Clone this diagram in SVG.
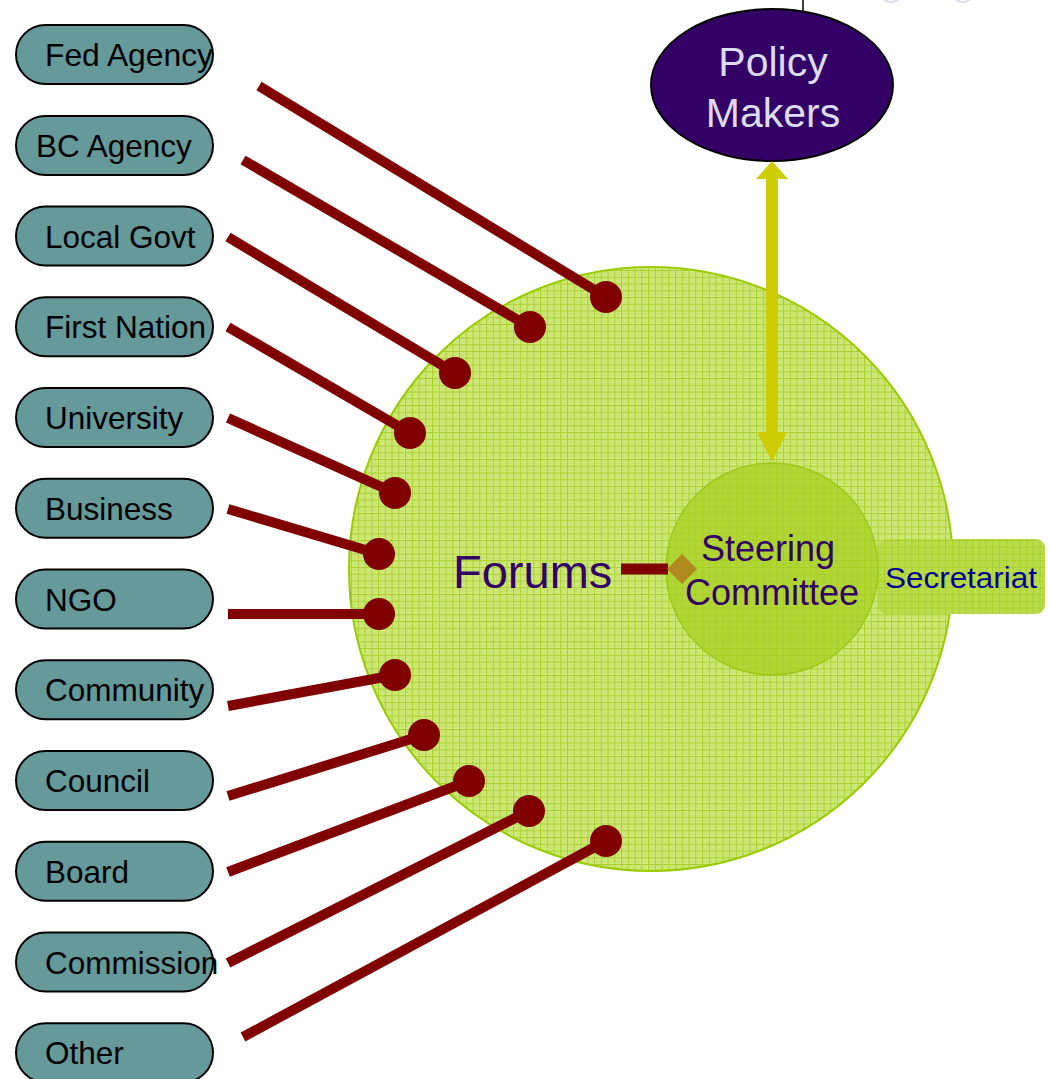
<svg xmlns="http://www.w3.org/2000/svg" width="1051" height="1079" viewBox="0 0 1051 1079">
<style>
.node rect{fill:#669999;stroke:#000;stroke-width:2}
.node text{font-family:"Liberation Sans",Arial,sans-serif;font-size:31.5px;fill:#000}
.link{stroke:#800000;stroke-width:10;fill:none}
.dot{fill:#800000}
.purple{font-family:"Liberation Sans",Arial,sans-serif;fill:#330066}
</style>
<defs>
<pattern id="grid" width="6.75" height="6.75" patternUnits="userSpaceOnUse">
<rect width="6.75" height="6.75" fill="#d1ea82"/>
<circle cx="3.4" cy="3.4" r="1.8" fill="none" stroke="#c0de58" stroke-width="0.8"/>
<path d="M0,0.5H6.75M0.5,0V6.75" stroke="#a9d02c" stroke-width="1"/>
</pattern>
<marker id="headTop" viewBox="0 0 18 32" refX="7" refY="16" markerWidth="18" markerHeight="32" markerUnits="userSpaceOnUse" orient="auto-start-reverse">
<path d="M0,0L18,16L0,32z" fill="#cccc00"/>
</marker>
<marker id="headBot" viewBox="0 0 30 30" refX="12" refY="15" markerWidth="30" markerHeight="30" markerUnits="userSpaceOnUse" orient="auto">
<path d="M0,0L30,15L0,30z" fill="#cccc00"/>
</marker>
</defs>
<rect width="1051" height="1079" fill="#fff"/>
<g id="top-marks">
<line x1="803" y1="0" x2="803" y2="11" stroke="#000" stroke-width="1.5"/>
<ellipse cx="891" cy="-5" rx="9" ry="7" fill="none" stroke="#dcdcf0" stroke-width="2"/>
<ellipse cx="963" cy="-5" rx="9" ry="7" fill="none" stroke="#dcdcf0" stroke-width="2"/>
</g>
<g id="forums">
<circle cx="651" cy="569" r="302" fill="url(#grid)" stroke="#99cc00" stroke-width="2"/>
<text class="purple" x="453" y="588" font-size="47">Forums</text>
</g>
<g id="secretariat">
<rect x="878" y="539" width="167" height="75" rx="9" fill="url(#grid)"/>
<rect x="878" y="539" width="167" height="75" rx="9" fill="#a8d020" fill-opacity="0.5"/>
<text x="961" y="588" text-anchor="middle" font-family="Liberation Sans,Arial,sans-serif" font-size="30" fill="#000099" textLength="152" lengthAdjust="spacingAndGlyphs">Secretariat</text>
</g>
<g id="steering">
<circle cx="772" cy="569" r="106" fill="#a6cf1e" fill-opacity="0.72" stroke="#9cc81c" stroke-width="1.5"/>
<text class="purple" x="768" y="561" font-size="36" text-anchor="middle">Steering</text>
<text class="purple" x="772" y="605" font-size="36" text-anchor="middle">Committee</text>
</g>
<g id="policy-makers">
<ellipse cx="772" cy="85" rx="121" ry="76" fill="#330066" stroke="#000" stroke-width="2"/>
<text x="773" y="76" text-anchor="middle" font-family="Liberation Sans,Arial,sans-serif" font-size="41" fill="#dcdcf2">Policy</text>
<text x="773" y="127" text-anchor="middle" font-family="Liberation Sans,Arial,sans-serif" font-size="41" fill="#dcdcf2">Makers</text>
</g>
<g id="node-fed" class="node"><rect x="16" y="25" width="197" height="59" rx="29.5"/><text x="45" y="66" textLength="168" lengthAdjust="spacingAndGlyphs">Fed Agency</text></g>
<g id="node-bc" class="node"><rect x="16" y="116" width="197" height="59" rx="29.5"/><text x="36" y="157">BC Agency</text></g>
<g id="node-local" class="node"><rect x="16" y="206.5" width="197" height="59" rx="29.5"/><text x="45" y="247.5">Local Govt</text></g>
<g id="node-first" class="node"><rect x="16" y="297.25" width="197" height="59" rx="29.5"/><text x="45" y="338.25">First Nation</text></g>
<g id="node-university" class="node"><rect x="16" y="388" width="197" height="59" rx="29.5"/><text x="45" y="429">University</text></g>
<g id="node-business" class="node"><rect x="16" y="478.75" width="197" height="59" rx="29.5"/><text x="45" y="519.75">Business</text></g>
<g id="node-ngo" class="node"><rect x="16" y="569.5" width="197" height="59" rx="29.5"/><text x="45" y="610.5">NGO</text></g>
<g id="node-community" class="node"><rect x="16" y="660.25" width="197" height="59" rx="29.5"/><text x="45" y="701.25">Community</text></g>
<g id="node-council" class="node"><rect x="16" y="751" width="197" height="59" rx="29.5"/><text x="45" y="792">Council</text></g>
<g id="node-board" class="node"><rect x="16" y="841.75" width="197" height="59" rx="29.5"/><text x="45" y="882.75">Board</text></g>
<g id="node-commission" class="node"><rect x="16" y="932.5" width="197" height="59" rx="29.5"/><text x="45" y="973.5">Commission</text></g>
<g id="node-other" class="node"><rect x="16" y="1023.25" width="197" height="59" rx="29.5"/><text x="45" y="1064.25">Other</text></g>
<g id="connectors">
<line class="link" x1="259" y1="86" x2="606" y2="297"/><circle class="dot" cx="606" cy="297" r="16"/>
<line class="link" x1="243" y1="160" x2="530" y2="327"/><circle class="dot" cx="530" cy="327" r="16"/>
<line class="link" x1="228" y1="237" x2="455" y2="373"/><circle class="dot" cx="455" cy="373" r="16"/>
<line class="link" x1="228" y1="327" x2="410" y2="433"/><circle class="dot" cx="410" cy="433" r="16"/>
<line class="link" x1="228" y1="418" x2="395" y2="493"/><circle class="dot" cx="395" cy="493" r="16"/>
<line class="link" x1="228" y1="509" x2="379" y2="554"/><circle class="dot" cx="379" cy="554" r="16"/>
<line class="link" x1="228" y1="614" x2="379" y2="614"/><circle class="dot" cx="379" cy="614" r="16"/>
<line class="link" x1="228" y1="706" x2="395" y2="675"/><circle class="dot" cx="395" cy="675" r="16"/>
<line class="link" x1="228" y1="796" x2="424" y2="735"/><circle class="dot" cx="424" cy="735" r="16"/>
<line class="link" x1="228" y1="872" x2="469" y2="781"/><circle class="dot" cx="469" cy="781" r="16"/>
<line class="link" x1="228" y1="963" x2="529" y2="811"/><circle class="dot" cx="529" cy="811" r="16"/>
<line class="link" x1="243" y1="1037" x2="606" y2="841"/><circle class="dot" cx="606" cy="841" r="16"/>
<line x1="621" y1="569" x2="668" y2="569" stroke="#800000" stroke-width="11"/>
<path d="M682,554L697,569L682,584L667,569z" fill="#b07c1c" fill-opacity="0.85"/>
<line x1="772" y1="172" x2="772" y2="444" stroke="#cccc00" stroke-width="12" marker-start="url(#headTop)" marker-end="url(#headBot)"/>
</g>
</svg>
